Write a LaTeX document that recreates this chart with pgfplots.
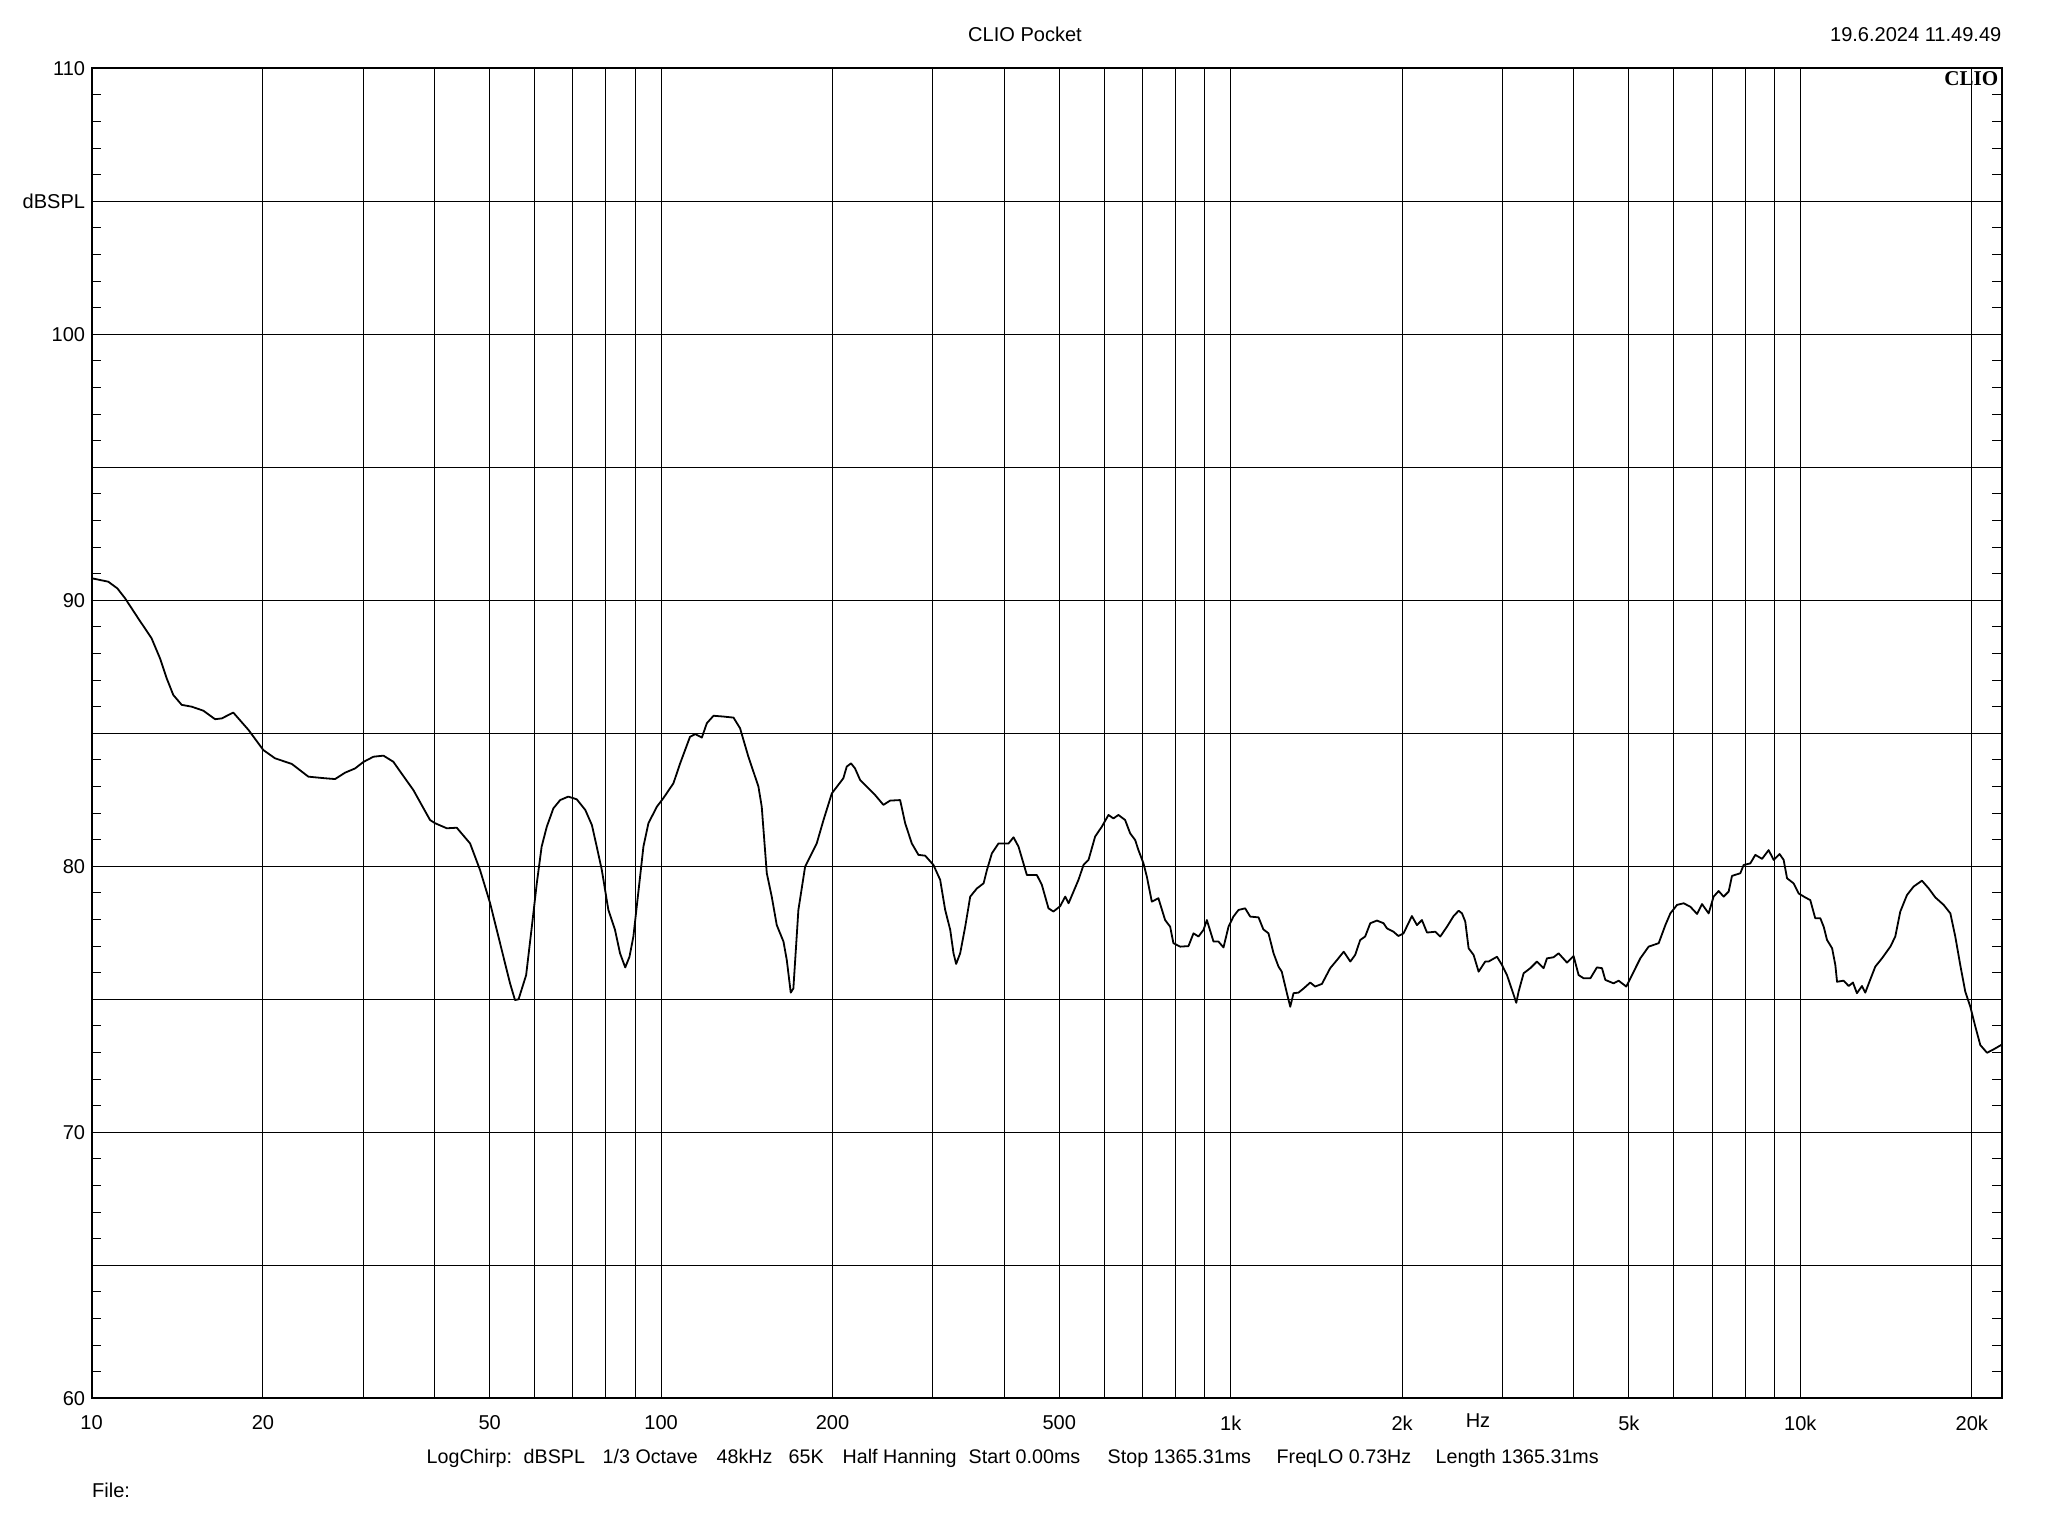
\documentclass[border=0pt]{standalone}
\usepackage{fontspec}
\setmainfont{Liberation Sans}
\newfontfamily\cliofont{Liberation Serif}
\usepackage{pgfplots}
\pgfplotsset{compat=1.18}
\begin{document}
\begin{tikzpicture}[font=\fontsize{5.7pt}{6.8pt}\selectfont]
% page frame in reference pixels (0.1mm each), origin = axis bottom left
\begin{scope}[x=0.1mm, y=-0.1mm, shift={(-9.15mm,139.83mm)}]
\useasboundingbox (0,0) rectangle (2048,1536);
\end{scope}
\begin{axis}[
  at={(0,0)}, anchor=south west,
  scale only axis, width=191.05mm, height=133mm,
  xmode=log, xmin=10, xmax=22600, ymin=60, ymax=110,
  axis line style={line width=0.2mm},
  xtick={10,20,30,40,50,60,70,80,90,100,200,300,400,500,600,700,800,900,
         1000,2000,3000,4000,5000,6000,7000,8000,9000,10000,20000},
  xticklabels={10,20,,,50,,,,,100,200,,,500,,,,,1k,2k,,,5k,,,,,10k,20k},
  minor xtick={},
  ytick={60,65,70,75,80,85,90,95,100,105,110},
  yticklabels={60,,70,,80,,90,,100,dBSPL,110},
  minor y tick num=4,
  ytick pos=both, yticklabel pos=left,
  tick align=inside,
  major tick length=0pt, minor tick length=0.97mm,
  minor tick style={line width=0.1mm, black},
  grid=major, major grid style={line width=0.1mm, black},
  xticklabel style={yshift=-0.5mm},
  yticklabel style={xshift=0.6mm},
  /pgf/number format/assume math mode=true,
]
\addplot[black, line width=0.18mm, line join=round] coordinates {
(10,90.83) (10.7,90.70) (11.1,90.45) (11.45,90.08) (12.08,89.32) (12.75,88.57)
(13.19,87.82) (13.55,87.07) (13.92,86.44) (14.40,86.07) (15.0,86.00) (15.72,85.85)
(16.48,85.53) (16.93,85.56) (17.74,85.78) (18.86,85.13) (20.03,84.37) (21.0,84.06)
(22.47,83.85) (24.03,83.37) (25.7,83.31) (26.77,83.28) (27.87,83.52) (29.03,83.68)
(30.0,83.92) (31.26,84.12) (32.55,84.16) (33.88,83.93) (35.05,83.48) (36.73,82.87)
(39.3,81.74) (40.1,81.62) (42.05,81.43) (43.78,81.45) (46.2,80.86) (48.1,79.86)
(50.1,78.61) (52.15,77.11) (54.3,75.60) (55.4,74.97) (56.2,75.0) (57.95,75.91)
(59.3,77.73) (60.5,79.36) (61.7,80.74) (63.0,81.49) (64.7,82.18) (66.5,82.49)
(68.7,82.62) (71.1,82.52) (73.6,82.12) (75.6,81.55) (77.1,80.74) (78.7,79.86)
(80.8,78.36) (83.0,77.61) (84.7,76.73) (86.5,76.20) (88.0,76.60) (89.4,77.36)
(91.3,79.11) (93.1,80.74) (95.0,81.62) (98.3,82.24) (100.9,82.56) (105.1,83.12)
(108.0,83.87) (112.4,84.87) (114.8,84.97) (117.9,84.84) (120.3,85.38) (123.6,85.66)
(128.6,85.63) (134.0,85.59) (137.6,85.19) (142.3,84.12) (148.2,83.0) (150.2,82.24)
(153.3,79.74) (156.4,78.86) (159.6,77.79) (164.0,77.17) (166.2,76.48) (168.9,75.25)
(170.7,75.41) (174.2,78.36) (179.0,79.99) (187.6,80.86) (192.8,81.74) (199.4,82.74)
(208.9,83.31) (211.8,83.75) (215.5,83.87) (219.0,83.68) (223.5,83.25) (229.6,83.0)
(237.5,82.68) (245.6,82.31) (252.4,82.47) (262.8,82.49) (268.2,81.62) (275.5,80.86)
(283.0,80.43) (290.8,80.40) (300.7,80.05) (309.0,79.49) (315.3,78.36) (321.8,77.61)
(326.1,76.73) (329.6,76.33) (335.0,76.73) (341.9,77.73) (348.9,78.86) (358.5,79.17)
(368.3,79.36) (373.3,79.86) (380.9,80.49) (391.2,80.86) (407.4,80.86) (415.6,81.09)
(424.1,80.74) (438.7,79.67) (456.8,79.67) (466.1,79.30) (478.7,78.42) (488.4,78.30)
(501.8,78.50) (512.2,78.86) (519.2,78.61) (529.7,79.05) (540.4,79.49) (551.5,80.05)
(562.8,80.24) (578.1,81.12) (593.9,81.49) (610.1,81.93) (622.4,81.80) (635.2,81.93)
(652.6,81.74) (666.0,81.24) (679.6,80.99) (688.7,80.61) (702.8,80.11) (712.5,79.61)
(727.0,78.67) (746.6,78.80) (767.2,77.98) (782.9,77.73) (793.4,77.11) (815.2,76.98)
(843.0,77.0) (860.3,77.48) (877.9,77.36) (895.8,77.61) (908.1,77.98) (932.8,77.17)
(951.7,77.17) (971.2,76.95) (991.1,77.73) (1011,78.11) (1032,78.36) (1060,78.42)
(1082,78.11) (1119,78.08) (1141,77.63) (1165,77.48) (1189,76.73) (1213,76.23)
(1229,76.04) (1255,75.23) (1272,74.72) (1289,75.23) (1315,75.25) (1343,75.41)
(1379,75.63) (1407,75.48) (1446,75.58) (1495,76.17) (1537,76.48) (1579,76.79)
(1622,76.42) (1654,76.67) (1688,77.23) (1722,77.36) (1758,77.86) (1806,77.96)
(1855,77.86) (1880,77.67) (1931,77.54) (1970,77.38) (2011,77.48) (2080,78.13)
(2123,77.79) (2166,77.98) (2211,77.51) (2286,77.54) (2333,77.36) (2397,77.73)
(2462,78.13) (2513,78.33) (2547,78.23) (2581,77.92) (2616,76.92) (2669,76.67)
(2724,76.04) (2798,76.42) (2836,76.42) (2934,76.60) (2994,76.29) (3055,75.91)
(3118,75.35) (3172,74.87) (3202,75.29) (3268,75.98) (3357,76.17) (3449,76.42)
(3543,76.17) (3591,76.54) (3688,76.58) (3764,76.73) (3894,76.38) (3999,76.63)
(4081,75.91) (4165,75.79) (4280,75.79) (4395,76.20) (4485,76.17) (4546,75.73)
(4701,75.60) (4797,75.70) (4948,75.48) (5063,75.91) (5237,76.54) (5416,76.98)
(5641,77.11) (5795,77.79) (5913,78.23) (6076,78.55) (6240,78.61) (6411,78.48)
(6587,78.21) (6721,78.58) (6903,78.23) (7043,78.86) (7188,79.07) (7335,78.86)
(7485,79.05) (7588,79.64) (7847,79.74) (7953,80.05) (8170,80.11) (8337,80.43)
(8566,80.28) (8797,80.61) (8977,80.24) (9197,80.46) (9348,80.24) (9477,79.55)
(9731,79.36) (9931,78.98) (10200,78.83) (10410,78.73) (10620,78.05) (10840,78.05)
(10990,77.73) (11140,77.23) (11370,76.92) (11520,76.29) (11600,75.66) (11910,75.70)
(12160,75.50) (12370,75.63) (12570,75.23) (12830,75.50) (13000,75.25) (13360,75.91)
(13540,76.23) (13910,76.54) (14390,76.98) (14680,77.36) (14980,78.30) (15390,78.92)
(15810,79.24) (16350,79.46) (16800,79.17) (17260,78.83) (17850,78.55) (18340,78.23)
(18710,77.36) (19090,76.29) (19480,75.29) (19880,74.72) (20290,73.97) (20700,73.28)
(21270,72.99) (21850,73.12) (22510,73.28) (22600,73.30)
};
\end{axis}
\begin{scope}[x=0.1mm, y=-0.1mm, shift={(-9.15mm,139.83mm)}]
\node[anchor=base, inner sep=0pt] at (1025,42) {CLIO Pocket};
\node[anchor=base east, inner sep=0pt] at (2002,42) {19.6.2024 11.49.49};
\node[anchor=base east, inner sep=0pt, font=\cliofont\bfseries\fontsize{6pt}{7pt}\selectfont] at (1999,86) {CLIO};
\node[anchor=base, inner sep=0pt] at (1478,1427) {Hz};
\begin{scope}[every node/.style={anchor=base west, inner sep=0pt, font=\fontsize{5.6pt}{6.7pt}\selectfont}]
\node at (426,1463) {LogChirp:};
\node at (523,1463) {dBSPL};
\node at (602,1463) {1/3 Octave};
\node at (716,1463) {48kHz};
\node at (788,1463) {65K};
\node at (842,1463) {Half Hanning};
\node at (968,1463) {Start 0.00ms};
\node at (1107,1463) {Stop 1365.31ms};
\node at (1276,1463) {FreqLO 0.73Hz};
\node at (1435,1463) {Length 1365.31ms};
\end{scope}
\node[anchor=base west, inner sep=0pt] at (91.5,1497) {File:};
\end{scope}
\end{tikzpicture}
\end{document}
